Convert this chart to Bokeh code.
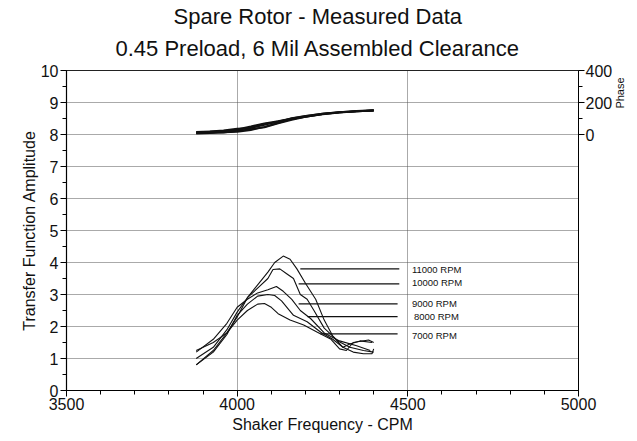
from bokeh.plotting import figure
from bokeh.models import (Range1d, LinearAxis, FixedTicker, Title, ColumnDataSource)
from bokeh.embed import file_html
from bokeh.resources import INLINE
from bokeh.core.properties import value
import math

# ---- data ----
freq_a = [3880, 3930, 3970, 4000, 4030, 4060, 4090, 4110, 4135, 4155, 4175, 4200, 4230, 4255, 4280, 4310, 4340, 4370, 4395, 4400]
amp_11000 = [0.80, 1.25, 1.80, 2.30, 2.90, 3.30, 3.70, 4.00, 4.20, 4.10, 3.80, 3.35, 2.85, 2.20, 1.70, 1.35, 1.20, 1.15, 1.15, 1.30]

freq_b = [3880, 3930, 3970, 4000, 4030, 4060, 4090, 4105, 4125, 4145, 4165, 4185, 4205, 4225, 4255, 4295, 4330, 4370, 4400]
amp_10000 = [1.00, 1.35, 1.90, 2.45, 2.90, 3.20, 3.50, 3.78, 3.80, 3.65, 3.50, 3.00, 2.85, 2.50, 1.95, 1.55, 1.35, 1.25, 1.20]

freq_c = [3880, 3930, 3970, 4000, 4030, 4060, 4090, 4115, 4135, 4160, 4185, 4215, 4255, 4300, 4350, 4390]
amp_9000 = [1.20, 1.60, 2.10, 2.60, 2.85, 3.05, 3.15, 3.25, 3.10, 2.85, 2.50, 2.25, 1.80, 1.55, 1.40, 1.25]

freq_d = [3880, 3930, 3970, 4000, 4030, 4060, 4090, 4110, 4130, 4165, 4205, 4245, 4280, 4310, 4330, 4360, 4395]
amp_8000 = [0.80, 1.20, 1.75, 2.35, 2.70, 2.95, 3.00, 2.97, 2.80, 2.35, 2.15, 1.82, 1.60, 1.35, 1.45, 1.55, 1.50]

freq_e = [3880, 3930, 3970, 4000, 4030, 4060, 4080, 4100, 4120, 4155, 4195, 4235, 4275, 4300, 4320, 4340, 4385, 4400]
amp_7000 = [1.25, 1.50, 1.80, 2.20, 2.50, 2.70, 2.72, 2.60, 2.40, 2.20, 2.05, 1.82, 1.60, 1.30, 1.25, 1.50, 1.58, 1.50]

phase_freq = [3880, 3920, 3960, 4000, 4040, 4080, 4120, 4160, 4200, 4250, 4300, 4350, 4400]
phase_1 = [10, 12, 14, 16, 28, 48, 72, 96, 112, 128, 138, 145, 150]
phase_2 = [6, 8, 20, 32, 50, 70, 84, 100, 114, 130, 140, 146, 151]
phase_3 = [16, 20, 26, 36, 40, 60, 82, 98, 110, 126, 137, 144, 149]
phase_4 = [8, 10, 12, 22, 34, 44, 70, 92, 110, 127, 138, 145, 150]
phase_5 = [14, 18, 22, 26, 46, 66, 78, 102, 116, 131, 140, 147, 152]

rpm_labels = ["11000 RPM", "10000 RPM", "9000 RPM", "8000 RPM", "7000 RPM"]
label_y = [3.78, 3.37, 2.71, 2.32, 1.72]
label_x = [4512, 4512, 4512, 4518, 4512]
leader_x0 = [4185, 4180, 4180, 4206, 4244]
leader_x1 = [4475, 4475, 4470, 4470, 4470]
leader_y = [3.80, 3.33, 2.71, 2.31, 1.77]

x_ticks = [3500, 4000, 4500, 5000]
x_minor = [v for v in range(3500, 5001, 100)]
y_ticks = list(range(0, 11))
y_minor = [v / 2 for v in range(0, 21)]
phase_ticks = [0, 200, 400]
phase_minor = [100, 300]
phase_title_at = 162   # phase value where the "Phase" caption starts

FONT = "Liberation Sans"

p = figure(frame_width=512, frame_height=320, output_backend="svg", toolbar_location=None,
           x_range=Range1d(3500, 5000), y_range=Range1d(0, 10),
           min_border_left=66, min_border_right=55, min_border_top=70, min_border_bottom=48)
p.title = None

t2 = Title(text="0.45 Preload, 6 Mil Assembled Clearance", align="left",
           text_font=FONT, text_font_size="22px", text_font_style="normal", text_color="#111",
           offset=49, standoff=20)
t1 = Title(text="Spare Rotor - Measured Data", align="left",
           text_font=FONT, text_font_size="22px", text_font_style="normal", text_color="#111",
           offset=107, standoff=-10)
p.add_layout(t2, "above")
p.add_layout(t1, "above")

p.extra_y_ranges = {"phase": Range1d(-1600, 400)}

p.background_fill_color = "white"
p.border_fill_color = "white"
p.outline_line_color = "#222"
p.outline_line_width = 1

# axes
for ax in (p.xaxis[0], p.yaxis[0]):
    ax.axis_line_color = "black"
    ax.axis_line_width = 1.2
    ax.major_tick_line_color = "black"
    ax.minor_tick_line_color = "black"
    ax.major_tick_in = 0
    ax.major_tick_out = 6
    ax.minor_tick_in = 0
    ax.minor_tick_out = 4
    ax.major_label_text_font = FONT
    ax.major_label_text_font_size = "16px"
    ax.major_label_text_color = "#111"
    ax.axis_label_text_font = FONT
    ax.axis_label_text_font_size = "16px"
    ax.axis_label_text_font_style = "normal"
    ax.axis_label_text_color = "#111"

p.xaxis.ticker = FixedTicker(ticks=x_ticks, minor_ticks=x_minor)
p.yaxis.ticker = FixedTicker(ticks=y_ticks, minor_ticks=y_minor)
p.xaxis.axis_label = "Shaker Frequency - CPM"
p.yaxis.axis_label = "Transfer Function Amplitude"
p.xaxis.major_label_standoff = 1
p.xaxis.axis_label_standoff = 3
p.yaxis.major_label_standoff = 2
p.yaxis.axis_label_standoff = 0

rax = LinearAxis(y_range_name="phase",
                 ticker=FixedTicker(ticks=phase_ticks, minor_ticks=phase_minor))
rax.axis_line_color = "black"
rax.major_tick_in = 0
rax.major_tick_out = 6
rax.minor_tick_in = 0
rax.minor_tick_out = 4
rax.major_label_text_font = FONT
rax.major_label_text_font_size = "16px"
rax.major_label_text_color = "#111"
rax.major_label_standoff = 1
p.add_layout(rax, "right")

# caption "Phase" beside the phase scale (a label-only axis)
cap = LinearAxis(y_range_name="phase", ticker=FixedTicker(ticks=[phase_title_at], minor_ticks=[]),
                 major_label_overrides={phase_title_at: "Phase"})
cap.axis_line_color = None
cap.major_tick_line_color = None
cap.minor_tick_line_color = None
cap.major_tick_in = 0
cap.major_tick_out = 0
cap.major_label_standoff = 5
cap.major_label_orientation = math.pi / 2
cap.major_label_text_font = FONT
cap.major_label_text_font_size = "11px"
cap.major_label_text_color = "#111"
p.add_layout(cap, "right")

# grid
p.xgrid.ticker = FixedTicker(ticks=[4000, 4500])
p.ygrid.ticker = FixedTicker(ticks=list(range(1, 10)))
for g in (p.xgrid[0], p.ygrid[0]):
    g.grid_line_color = "#555"
    g.grid_line_dash = "1 1"
    g.grid_line_width = 1

# amplitude curves
for fx, fy in ((freq_a, amp_11000), (freq_b, amp_10000), (freq_c, amp_9000),
               (freq_d, amp_8000), (freq_e, amp_7000)):
    p.line(fx, fy, line_color="#111", line_width=1.1)

# phase curves
for ph in (phase_1, phase_2, phase_3, phase_4, phase_5):
    p.line(phase_freq, ph, y_range_name="phase", line_color="#111", line_width=1.8)

# leaders and labels
p.segment(x0=leader_x0, y0=leader_y, x1=leader_x1, y1=leader_y, line_color="#111", line_width=1.2)
src = ColumnDataSource(dict(x=label_x, y=label_y, t=rpm_labels))
p.text(x="x", y="y", text="t", source=src, text_font=value(FONT), text_font_size="9.5px",
       text_baseline="middle", text_align="left", text_color="#111")

open("out.html", "w").write(file_html(p, INLINE))
